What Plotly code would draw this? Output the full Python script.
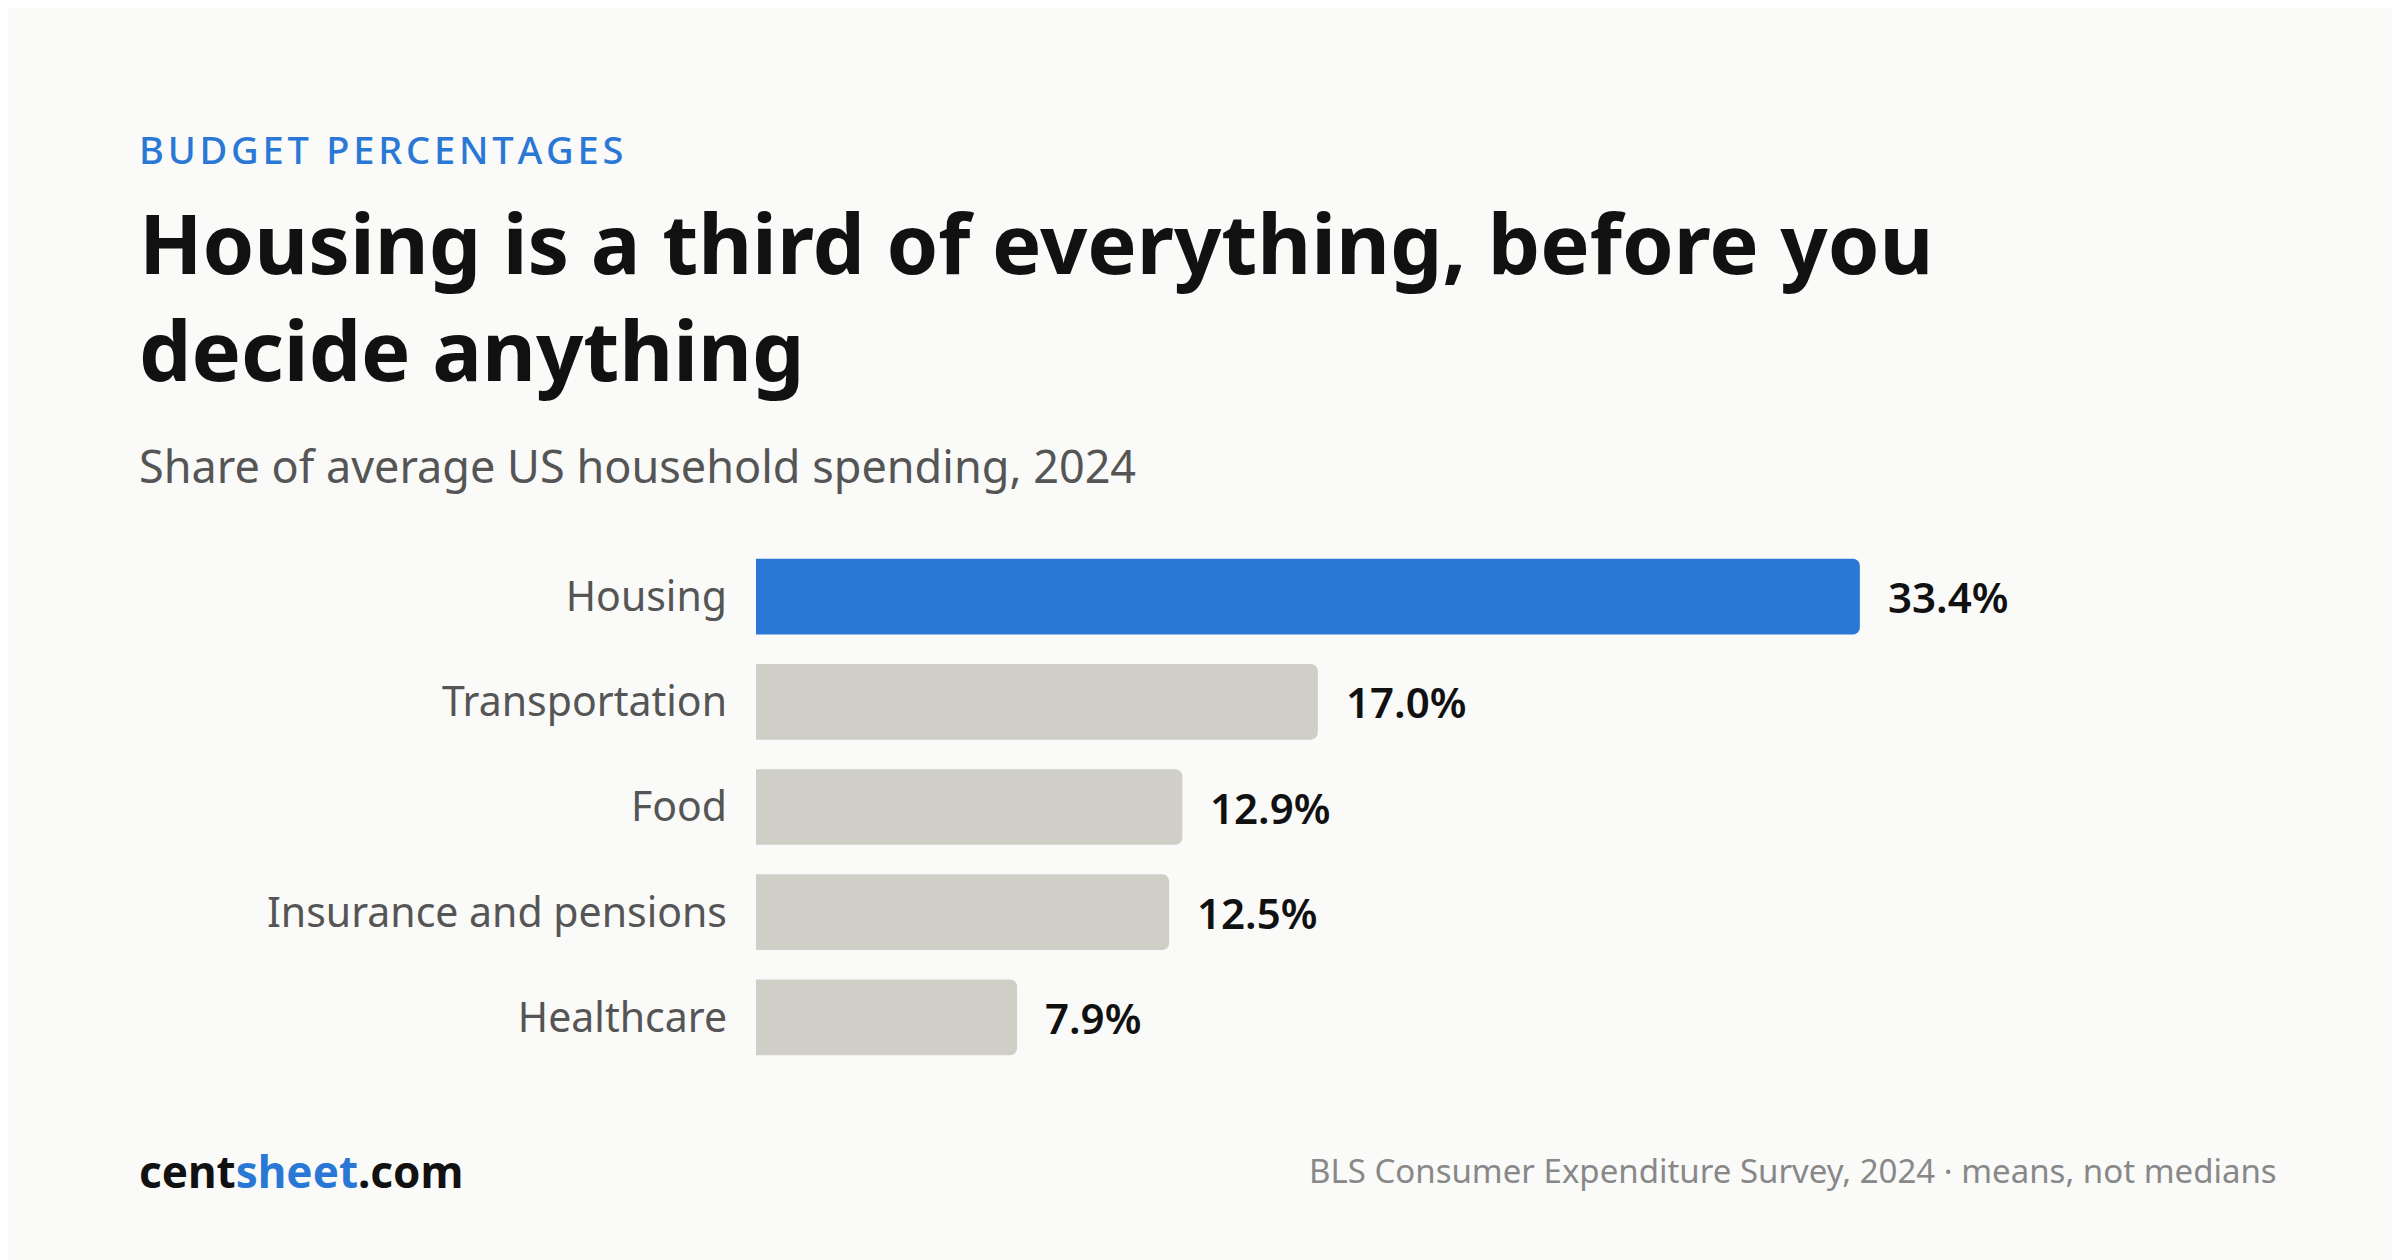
import plotly.graph_objects as go

categories = ["Housing", "Transportation", "Food", "Insurance and pensions", "Healthcare"]
shares = [33.4, 17.0, 12.9, 12.5, 7.9]
value_labels = ["33.4%", "17.0%", "12.9%", "12.5%", "7.9%"]

FONT = "Noto Sans"
BLUE = "#2a78d6"
GREY = "#cfcfc7"
colors = [BLUE] + [GREY] * (len(categories) - 1)

fig = go.Figure(go.Bar(
    x=shares, y=categories, orientation="h",
    marker=dict(color=colors, line=dict(width=0)),
    width=0.72, hoverinfo="skip",
))

for cat, v, lab in zip(categories, shares, value_labels):
    fig.add_annotation(x=v, y=cat, text=lab, showarrow=False, xanchor="left",
                       xshift=26, font=dict(family=FONT, size=42, color="#111", weight=600))

def txt(x, y, text, size, color, xanchor="left", weight="normal"):
    fig.add_annotation(x=x, y=y, xref="paper", yref="paper", text=text,
                       showarrow=False, xanchor=xanchor, yanchor="middle",
                       font=dict(family=FONT, size=size, color=color, weight=weight))

kicker = "\u200a".join("BUDGET PERCENTAGES")
txt(-0.468, 1.751, kicker, 38, BLUE, weight=500)
txt(-0.468, 1.575, "<b>Housing is a third of everything, before you</b>", 83, "#111")
txt(-0.468, 1.372, "<b>decide anything</b>", 83, "#111")
txt(-0.468, 1.149, "Share of average US household spending, 2024", 45, "#555")
txt(-0.468, -0.192, "<b>cent<span style='color:%s'>sheet</span>.com</b>" % BLUE, 44, "#111")
txt(1.152, -0.192, "BLS Consumer Expenditure Survey, 2024 · means, not medians", 33, "#888",
    xanchor="right")

fig.update_layout(
    width=2400, height=1260,
    margin=dict(l=748, r=330, t=536, b=198),
    paper_bgcolor="#fafaf8", plot_bgcolor="#fafaf8",
    barcornerradius=7, showlegend=False,
    font=dict(family=FONT),
)
fig.update_xaxes(range=[0, 40], visible=False, showgrid=False, zeroline=False)
fig.update_yaxes(autorange="reversed", showgrid=False, zeroline=False, ticks="",
                 ticklabelstandoff=28, tickfont=dict(family=FONT, size=41, color="#555"))

fig.write_html("out.html")
